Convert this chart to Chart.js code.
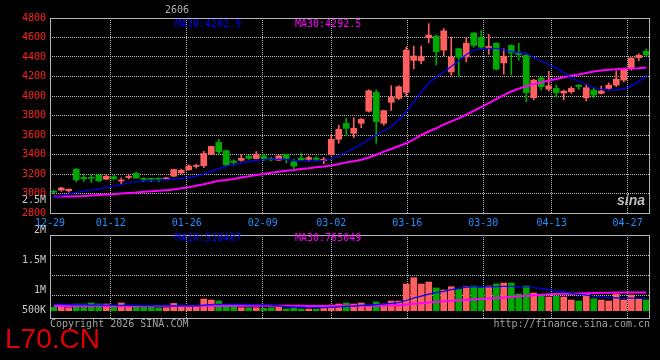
<!DOCTYPE html>
<html>
<head>
<meta charset="utf-8">
<script src="https://cdn.jsdelivr.net/npm/chart.js@4/dist/chart.umd.min.js"></script>
<style>
  html, body { margin: 0; padding: 0; background: #000; }
  #wrap { position: relative; width: 660px; height: 360px; overflow: hidden; background: #000; }
  #wrap canvas { position: absolute; left: 0; top: 0; }
  .t { position: absolute; font: 10px/10px "DejaVu Sans Mono", monospace; white-space: nowrap; }
  .r { right: 614px; text-align: right; color: #c8c8c8; }
  .ma10 { color: #0000ff; }
  .ma30 { color: #ff00ff; }
  .foot { color: #a0a0a0; top: 319px; }
  #site { position: absolute; left: 5px; top: 325px; font: 28px/28px "Liberation Sans", Arial, sans-serif; color: #e00000; }
  #logo { position: absolute; left: 617px; top: 193px; font: italic bold 14px/14px "Liberation Sans", sans-serif; color: #bdbdbd; }
</style>
</head>
<body>
<div id="wrap">
  <canvas id="priceChart" width="660" height="360"></canvas>
  <canvas id="volumeChart" width="660" height="360"></canvas>

  <div class="t" style="left:165px; top:5px; color:#b0b0b0;">2606</div>
  <div class="t ma10" style="left:175px; top:19px;">MA10:4202.9</div>
  <div class="t ma30" style="left:295px; top:19px;">MA30:4292.5</div>
  <div class="t ma10" style="left:175px; top:233px;">MA10:518407</div>
  <div class="t ma30" style="left:295px; top:233px;">MA30:765049</div>

  <div class="t r" style="top:195px;">2.5M</div>
  <div class="t r" style="top:225px;">2M</div>
  <div class="t r" style="top:255px;">1.5M</div>
  <div class="t r" style="top:285px;">1M</div>
  <div class="t r" style="top:305px;">500K</div>

  <div class="t foot" style="left:50px;">Copyright 2026 SINA.COM</div>
  <div class="t foot" style="right:10px;">http://finance.sina.com.cn</div>
  <div id="logo">sina</div>
  <div id="site">L70.CN</div>
</div>

<script>
// ==========================================================
// DATA (daily K-line, 2606)
// ==========================================================
const DAYS = [
    '12-29','12-30','12-31',
    '01-05','01-06','01-07','01-08','01-09','01-12','01-13','01-14','01-15','01-16',
    '01-19','01-20','01-21','01-22','01-23','01-26','01-27','01-28','01-29','01-30',
    '02-02','02-03','02-04','02-05','02-06','02-09','02-10','02-11','02-12','02-13',
    '02-24','02-25','02-26','02-27',
    '03-02','03-03','03-04','03-05','03-06','03-09','03-10','03-11','03-12','03-13',
    '03-16','03-17','03-18','03-19','03-20','03-23','03-24','03-25','03-26','03-27',
    '03-30','03-31',
    '04-01','04-02','04-03','04-07','04-08','04-09','04-10','04-13','04-14','04-15',
    '04-16','04-17','04-20','04-21','04-22','04-23','04-24','04-27','04-28','04-29','04-30'
];

const DATE_TICKS = ['12-29','01-12','01-26','02-09','03-02','03-16','03-30','04-13','04-27'];

const OPEN = [
    3018,3035,3028,3249,3165,3160,3188,3146,3172,3128,
    3165,3208,3148,3150,3150,3148,3178,3210,3243,3278,
    3285,3401,3524,3440,3333,3340,3384,3358,3386,3356,
    3342,3400,3325,3362,3350,3362,3336,3400,3556,3719,
    3617,3720,3844,4037,3720,3936,3976,4037,4365,4363,
    4597,4614,4471,4247,4485,4400,4647,4597,4492,4542,
    4339,4519,4444,4417,3983,4186,4071,4078,4030,4044,
    4112,3983,4061,4027,4078,4112,4163,4281,4393,4458
];
const HIGH = [
    3035,3065,3046,3256,3195,3190,3198,3190,3185,3160,
    3195,3222,3162,3158,3160,3167,3250,3250,3296,3300,
    3432,3486,3555,3446,3345,3398,3390,3430,3400,3370,
    3390,3405,3352,3414,3385,3380,3370,3597,3700,3770,
    3776,3770,4064,4064,3855,4105,4105,4502,4512,4512,
    4742,4624,4692,4603,4490,4597,4650,4671,4631,4545,
    4485,4525,4542,4434,4170,4195,4254,4112,4061,4095,
    4115,4112,4085,4102,4135,4258,4285,4393,4434,4485
];
const LOW = [
    2995,3023,3013,3119,3125,3113,3122,3144,3138,3095,
    3150,3155,3120,3120,3120,3140,3172,3205,3238,3260,
    3265,3398,3400,3285,3290,3330,3350,3355,3335,3335,
    3338,3313,3250,3336,3336,3335,3305,3395,3515,3590,
    3573,3675,3835,3515,3700,3851,3963,3997,4278,4330,
    4546,4318,4413,4213,4197,4349,4500,4485,4427,4265,
    4224,4214,4366,3942,3960,4061,4051,3986,3960,4027,
    4068,3949,3983,4020,4061,4095,4145,4265,4360,4410
];
const CLOSE = [
    3014,3057,3044,3140,3150,3155,3130,3177,3150,3138,
    3172,3158,3144,3146,3147,3160,3246,3238,3282,3284,
    3410,3483,3428,3293,3318,3360,3360,3400,3360,3345,
    3386,3360,3280,3345,3368,3350,3352,3556,3658,3668,
    3668,3760,4054,3737,3850,3986,4095,4471,4410,4403,
    4624,4455,4668,4400,4395,4542,4519,4502,4508,4275,
    4407,4441,4425,4034,4163,4095,4105,4034,4050,4078,
    4097,4085,4010,4051,4112,4173,4281,4390,4417,4420
];

const MA10 = [
    2964,2974,2995,3010,3026,3036,3048,3062,3077,3092,
    3108,3123,3132,3135,3138,3143,3147,3155,3165,3179,
    3200,3229,3253,3280,3297,3313,3329,3340,3346,3351,
    3354,3348,3340,3336,3333,3335,3341,3354,3390,3426,
    3462,3508,3554,3600,3641,3687,3754,3836,3938,4041,
    4128,4195,4246,4303,4364,4426,4472,4484,4489,4488,
    4474,4456,4444,4433,4395,4359,4323,4287,4241,4185,
    4149,4123,4087,4067,4062,4062,4076,4099,4150,4202.9
];
const MA30 = [
    2968,2969,2970,2972,2974,2979,2985,2989,2993,2999,
    3005,3010,3017,3023,3028,3034,3041,3053,3065,3079,
    3094,3113,3130,3138,3149,3164,3176,3190,3200,3212,
    3224,3233,3241,3251,3259,3269,3276,3287,3303,3318,
    3331,3346,3369,3397,3429,3456,3487,3515,3554,3600,
    3636,3669,3708,3740,3771,3810,3848,3887,3928,3969,
    4010,4046,4076,4100,4123,4138,4159,4174,4192,4207,
    4220,4236,4251,4262,4270,4275,4279,4281,4285,4292.5
];

const VOLUME = [
    142000,142000,125000,280000,280000,322000,280000,280000,167000,322000,
    167000,167000,167000,167000,125000,125000,305000,167000,167000,167000,
    489000,447000,405000,238000,238000,125000,125000,125000,100000,125000,
    142000,71000,125000,71000,71000,71000,125000,238000,280000,322000,
    280000,322000,196000,364000,280000,405000,405000,1116000,1379000,1116000,
    1200000,949000,865000,1003000,890000,1003000,1032000,961000,1032000,1116000,
    1158000,1158000,698000,1032000,740000,627000,573000,614000,573000,447000,
    405000,698000,502000,447000,405000,698000,447000,656000,489000,447000
];
const VOL_MA10 = [
    268000,265000,255000,245000,240000,236000,232000,230000,228000,226000,
    224000,220000,215000,210000,205000,200000,205000,205000,203000,200000,
    232000,258000,268000,265000,262000,262000,258000,250000,243000,238000,
    205000,170000,150000,140000,133000,127000,128000,140000,158000,180000,
    194000,219000,226000,255000,276000,309000,337000,425000,530000,610000,
    690000,755000,810000,880000,930000,985000,1000000,1000000,1000000,1010000,
    1015000,1020000,1000000,990000,960000,930000,885000,830000,790000,730000,
    680000,650000,605000,570000,548000,540000,527000,530000,520000,518407
];
const VOL_MA30 = [
    196000,196000,196000,197000,197000,197000,198000,198000,198000,198000,
    198000,198000,198000,198000,198000,198000,199000,199000,199000,199000,
    202000,204000,206000,207000,207000,207000,207000,207000,206000,206000,
    205000,204000,203000,202000,201000,200000,200000,201000,202000,203000,
    204000,205000,207000,211000,216000,223000,232000,260000,288000,312000,
    343000,368000,390000,413000,433000,452000,470000,490000,510000,532000,
    555000,578000,600000,625000,648000,670000,686000,696000,704000,712000,
    720000,730000,740000,748000,754000,758000,761000,763000,764000,765049
];

// ==========================================================
// LOOK
// ==========================================================
const RED = '#ff5f5f';
const GREEN = '#00a800';
const BLUE = '#0000ff';
const MAGENTA = '#ff00ff';
const GRID_COLOR = '#bcbcbc';
const FRAME_COLOR = '#b4b4b4';

// sina spaces its date grid a touch wider than the candle slots
const GRID_STRETCH = 76 / 75;

// volume panel: bars start at 0 a few px above the bottom edge
const VOL_MIN = -305000;
const VOL_MAX = 3165000;
const VOL_GRID = [656000, 1492000, 2328000];

Chart.defaults.font.family = '"DejaVu Sans Mono", monospace';
Chart.defaults.font.size = 10;

function candleColor(i) {
    return CLOSE[i] >= OPEN[i] ? RED : GREEN;
}

function atSlot(values) {
    return values.map((v, i) => ({ x: i + 0.5, y: v }));
}

function rangeAtSlot(a, b) {
    return DAYS.map((d, i) => ({ x: i + 0.5, y: [a[i], b[i]] }));
}

const colors = DAYS.map((d, i) => candleColor(i));

// solid frame around the plot area
const framePlugin = {
    id: 'frame',
    afterDatasetsDraw(chart) {
        const a = chart.chartArea;
        const ctx = chart.ctx;
        ctx.save();
        ctx.strokeStyle = FRAME_COLOR;
        ctx.lineWidth = 1;
        ctx.strokeRect(Math.round(a.left) + 0.5, Math.round(a.top) + 0.5,
                       Math.round(a.width) - 1, Math.round(a.height));
        ctx.restore();
    }
};

function dateAxis(showLabels) {
    return {
        type: 'linear',
        min: 0,
        max: DAYS.length,
        offset: false,
        grid: { color: GRID_COLOR, lineWidth: 1, drawTicks: false, offset: false },
        border: { display: false, dash: [1, 1] },
        afterBuildTicks: s => {
            s.ticks = DATE_TICKS.map(d => ({ value: DAYS.indexOf(d) * GRID_STRETCH }));
        },
        afterFit: s => { s.height = showLabels ? 20 : 0; },
        ticks: {
            display: showLabels,
            autoSkip: false,
            maxRotation: 0,
            color: '#1e90ff',
            padding: 4,
            callback: (v, i) => DATE_TICKS[i]
        }
    };
}

function lineSet(values, color, width) {
    return {
        type: 'line',
        data: atSlot(values),
        borderColor: color,
        borderWidth: width,
        pointRadius: 0,
        tension: 0,
        order: 0
    };
}

const common = {
    responsive: false,
    animation: false,
    plugins: { legend: { display: false }, tooltip: { enabled: false } }
};

// ==========================================================
// PRICE PANEL
// ==========================================================
new Chart(document.getElementById('priceChart'), {
    type: 'bar',
    data: {
        datasets: [
            lineSet(MA10, BLUE, 1.2),
            lineSet(MA30, MAGENTA, 2),
            {
                data: rangeAtSlot(OPEN, CLOSE),
                backgroundColor: colors,
                barThickness: 6,
                minBarLength: 1,
                grouped: false,
                order: 1
            },
            {
                data: rangeAtSlot(LOW, HIGH),
                backgroundColor: colors,
                barThickness: 1,
                grouped: false,
                order: 2
            }
        ]
    },
    options: Object.assign({}, common, {
        layout: { padding: { left: 0, top: 18, right: 10, bottom: 127 } },
        scales: {
            x: dateAxis(true),
            y: {
                min: 2800,
                max: 4800,
                grid: { color: GRID_COLOR, lineWidth: 1, drawTicks: false },
                border: { display: false, dash: [1, 1] },
                afterFit: s => { s.width = 50; },
                ticks: { stepSize: 200, color: '#ff2020', padding: 4, callback: v => String(v) }
            }
        }
    }),
    plugins: [framePlugin]
});

// ==========================================================
// VOLUME PANEL
// ==========================================================
new Chart(document.getElementById('volumeChart'), {
    type: 'bar',
    data: {
        datasets: [
            lineSet(VOL_MA10, BLUE, 1.2),
            lineSet(VOL_MA30, MAGENTA, 2),
            {
                data: atSlot(VOLUME),
                backgroundColor: colors,
                barThickness: 6,
                grouped: false,
                order: 1
            }
        ]
    },
    options: Object.assign({}, common, {
        layout: { padding: { left: 0, top: 235, right: 10, bottom: 42 } },
        scales: {
            x: dateAxis(false),
            y: {
                min: VOL_MIN,
                max: VOL_MAX,
                grid: { color: GRID_COLOR, lineWidth: 1, drawTicks: false },
                border: { display: false, dash: [1, 1] },
                afterBuildTicks: s => { s.ticks = VOL_GRID.map(v => ({ value: v })); },
                afterFit: s => { s.width = 50; },
                ticks: { display: false }
            }
        }
    }),
    plugins: [framePlugin]
});
</script>
</body>
</html>
